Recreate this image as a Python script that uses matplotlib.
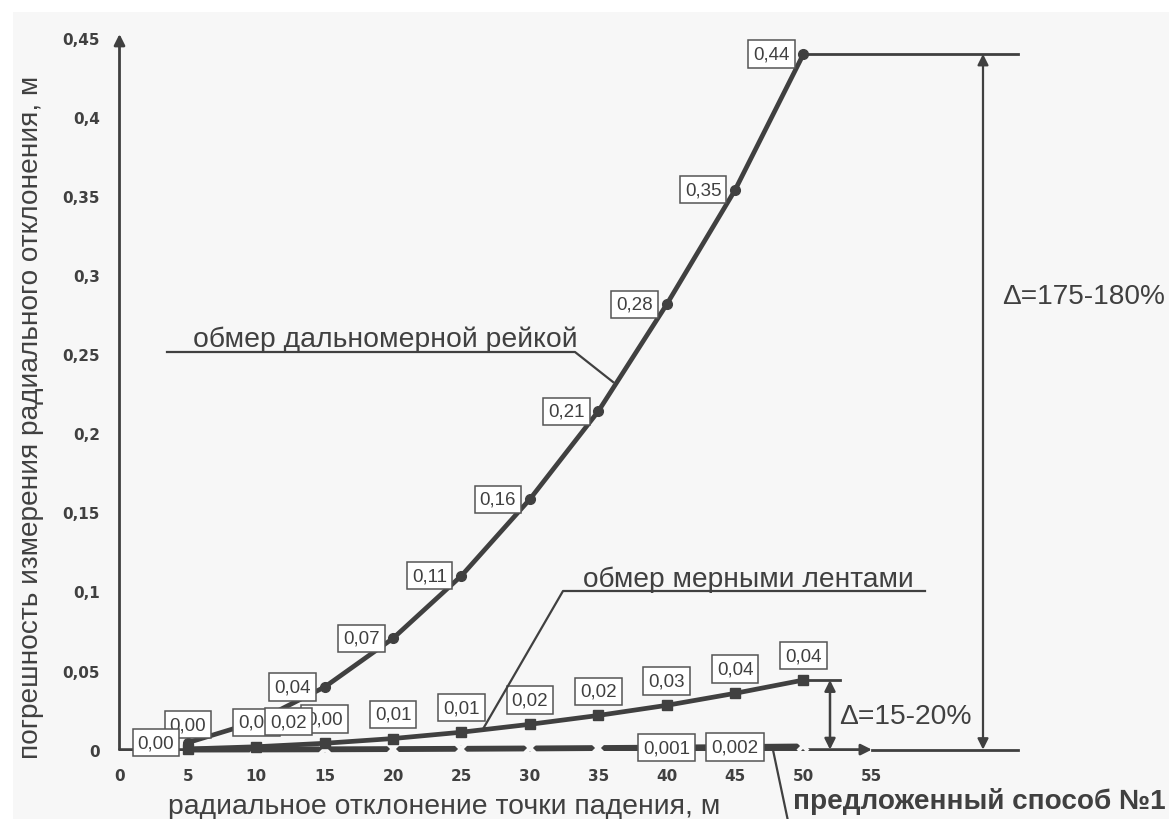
import matplotlib
matplotlib.use('Agg')
import matplotlib.pyplot as plt
from matplotlib import font_manager as fm
from matplotlib.lines import Line2D
from matplotlib.patches import Rectangle

# ---------------- data ----------------
x_vals = [5, 10, 15, 20, 25, 30, 35, 40, 45, 50]
rangefinder = [0.0044, 0.0176, 0.0396, 0.0704, 0.110, 0.1584, 0.214, 0.2816, 0.354, 0.440]
tape = [0.0004, 0.0018, 0.0040, 0.0070, 0.0110, 0.0160, 0.0216, 0.0280, 0.0356, 0.0440]
proposed = [0.00002, 0.00008, 0.00018, 0.00032, 0.0005, 0.00072, 0.00098, 0.00128, 0.00162, 0.0020]
proposed_labelled_x = [40, 45]

x_ticks = [0, 5, 10, 15, 20, 25, 30, 35, 40, 45, 50, 55]
y_ticks = [0, 0.05, 0.1, 0.15, 0.2, 0.25, 0.3, 0.35, 0.4, 0.45]
y_tick_labels = ['0', '0,05', '0,1', '0,15', '0,2', '0,25', '0,3', '0,35', '0,4', '0,45']

x_label = 'радиальное отклонение точки падения, м'
y_label = 'погрешность измерения радиального отклонения, м'
label_rangefinder = 'обмер дальномерной рейкой'
label_tape = 'обмер мерными лентами'
label_proposed = 'предложенный способ №1'
delta_big = 'Δ=175-180%'
delta_small = 'Δ=15-20%'

# ---------------- style ----------------
C = '#404040'
W, H = 1169, 820
names = {f.name for f in fm.fontManager.ttflist}
NARROW = 'Liberation Sans Narrow' if 'Liberation Sans Narrow' in names else 'Liberation Sans'

fig = plt.figure(figsize=(W / 100, H / 100), dpi=100, facecolor='#f7f7f7')
fig.add_artist(Rectangle((0, 1 - 13 / H), 1, 13 / H, transform=fig.transFigure,
                         facecolor='white', edgecolor='none', zorder=0))
fig.add_artist(Rectangle((0, 0), 13 / W, 1, transform=fig.transFigure,
                         facecolor='white', edgecolor='none', zorder=0))

X0, Y0 = 119.5, 750.6          # pixel of data origin
SX, SY = 13.68, 1581.0         # px per data unit
ax = fig.add_axes([X0 / W, (H - Y0) / H, 55 * SX / W, 0.45 * SY / H])
ax.set_facecolor('none')
ax.set_xlim(0, 55)
ax.set_ylim(0, 0.45)
for s in ax.spines.values():
    s.set_visible(False)
ax.set_xticks(x_ticks)
ax.set_xticklabels([str(t) for t in x_ticks])
ax.set_yticks(y_ticks)
ax.set_yticklabels(y_tick_labels)
ax.tick_params(length=0, labelcolor=C, labelsize=11)
ax.tick_params(axis='x', pad=13)
ax.tick_params(axis='y', pad=14)
for lab in ax.get_xticklabels() + ax.get_yticklabels():
    lab.set_fontweight('bold')
    lab.set_family('DejaVu Sans')


def px2d(xp, yp):
    return (xp - X0) / SX, (Y0 - yp) / SY


# axes with arrows
ax.annotate('', xy=(0, px2d(0, 35)[1]), xytext=(0, 0), annotation_clip=False,
            arrowprops=dict(arrowstyle='-|>', color=C, lw=2, mutation_scale=16,
                            shrinkA=0, shrinkB=0))
ax.annotate('', xy=(55, 0), xytext=(0, 0), annotation_clip=False,
            arrowprops=dict(arrowstyle='-|>', color=C, lw=2, mutation_scale=16,
                            shrinkA=0, shrinkB=0))

# extension lines and delta arrows
xe = px2d(1018, 0)[0]
xa = px2d(983, 0)[0]
ax.plot([55, xe], [0, 0], color=C, lw=2, clip_on=False, zorder=1)
ax.plot([x_vals[-1], xe], [max(rangefinder)] * 2, color=C, lw=2, clip_on=False, zorder=1)
ax.annotate('', xy=(xa, max(rangefinder)), xytext=(xa, 0), annotation_clip=False,
            arrowprops=dict(arrowstyle='<|-|>', color=C, lw=1.6, mutation_scale=16,
                            shrinkA=0, shrinkB=0))
xe2 = px2d(840, 0)[0]
xa2 = px2d(830, 0)[0]
ax.plot([x_vals[-1], xe2], [max(tape)] * 2, color=C, lw=2, clip_on=False, zorder=1)
ax.annotate('', xy=(xa2, max(tape)), xytext=(xa2, 0), annotation_clip=False,
            arrowprops=dict(arrowstyle='<|-|>', color=C, lw=1.8, mutation_scale=16,
                            shrinkA=0, shrinkB=0))

# series
ax.plot(x_vals, proposed, color=C, lw=4.2, clip_on=False, zorder=3, solid_capstyle='butt')
ax.plot(x_vals, proposed, ls='none', marker='x', color='#f7f7f7', mew=3, ms=7,
        clip_on=False, zorder=3.1)
ax.plot(x_vals, tape, color=C, lw=3.4, marker='s', ms=6.5, clip_on=False, zorder=3.2)
ax.plot(x_vals, rangefinder, color=C, lw=3.4, marker='o', ms=7, clip_on=False, zorder=3.3)


def fmt(v, d=2):
    return f'{v:.{d}f}'.replace('.', ',')


box = dict(boxstyle='square,pad=0.27', fc='white', ec='#555555', lw=1.1)
lab_kw = dict(textcoords='offset points', ha='center', va='center', fontsize=13.5,
              family='Liberation Sans', color=C, bbox=box, annotation_clip=False)
for xv, v in zip(x_vals, tape):
    ax.annotate(fmt(v), (xv, v), xytext=(0, 17.5), zorder=5, **lab_kw)
for xv, v in zip(x_vals, proposed):
    if xv in proposed_labelled_x:
        ax.annotate(fmt(v, 3), (xv, v), xytext=(0, 0), zorder=5, **lab_kw)
for xv, v in zip(x_vals, rangefinder):
    off = (23, 0) if xv == 10 else (-23, 0)
    ax.annotate(fmt(v), (xv, v), xytext=off, zorder=6, **lab_kw)

renderer = fig.canvas.get_renderer()


def fit_text(xp, yp, s, target, rotation=0, ha='left', va='baseline', **kw):
    t = fig.text(xp / W, 1 - yp / H, s, fontsize=20, rotation=rotation, ha=ha, va=va,
                 color=C, **kw)
    bb = t.get_window_extent(renderer)
    w = bb.width if rotation == 0 else bb.height
    t.set_fontsize(20 * target / w)
    return t


def fline(xs, ys, lw=1.6):
    fig.add_artist(Line2D([x / W for x in xs], [1 - y / H for y in ys],
                          transform=fig.transFigure, color=C, lw=lw))


# axis titles
fit_text(31, 417, y_label, 681, rotation=90, ha='center', va='center', family=NARROW)
fit_text(168, 814, x_label, 549, family='Liberation Sans')
fit_text(793, 809, label_proposed, 372, family='Liberation Sans', fontweight='bold')
fline([773, 788], [751, 822])

# series annotations
fit_text(193, 347, label_rangefinder, 382, family='Liberation Sans')
fline([167, 575, 613], [353, 353, 383])
fit_text(583, 587, label_tape, 329, family='Liberation Sans')
fline([925, 563, 483], [592, 592, 730])

# delta texts
fit_text(1002, 304, delta_big, 163, family='Liberation Sans')
fit_text(839, 724, delta_small, 133, family='Liberation Sans')

fig.savefig('out.png', dpi=100, facecolor=fig.get_facecolor())
